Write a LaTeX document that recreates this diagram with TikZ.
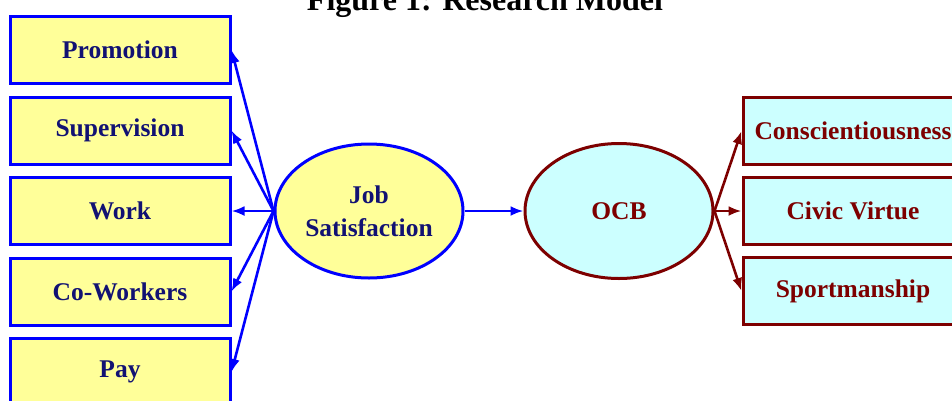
\documentclass[tikz,border=0pt]{standalone}
\usepackage{fontspec}
\setmainfont{Liberation Serif}
\usetikzlibrary{shapes.geometric,arrows.meta}
\definecolor{jsfill}{RGB}{255,255,153}
\definecolor{jstext}{RGB}{18,18,115}
\definecolor{ocbfill}{RGB}{204,255,255}
\definecolor{ocbred}{RGB}{125,0,0}
\begin{document}
\begin{tikzpicture}[x=1pt, y=-1pt,
    facet/.style={draw=blue, fill=jsfill, text=jstext, line width=3pt,
        minimum width=220pt, minimum height=67pt, inner sep=0pt,
        font=\fontsize{25.5}{33}\selectfont\bfseries},
    dimen/.style={draw=ocbred, fill=ocbfill, text=ocbred, line width=3pt,
        minimum width=220pt, minimum height=67pt, inner sep=0pt,
        font=\fontsize{25.5}{33}\selectfont\bfseries},
    tip/.style={line width=2.6pt, -{Latex[length=13pt,width=10pt]}}]
    \useasboundingbox (0,0) rectangle (952,400);
    \node[anchor=base, font=\fontsize{32}{36}\selectfont\bfseries] (title) at (485,10) {Figure 1: Research Model};
    \def\h{80.5}
    % facets of job satisfaction, top to bottom
    \foreach \lbl/\nm [count=\i from 0] in {Promotion/pro,Supervision/sup,Work/wrk,Co-Workers/cow,Pay/pay}{
        \node[facet] (\nm) at (120,50+\i*\h) {\lbl};
    }
    \node[ellipse, draw=blue, fill=jsfill, text=jstext, line width=3pt,
        minimum width=188pt, minimum height=134pt, inner sep=0pt, align=center,
        font=\fontsize{25.5}{33}\selectfont\bfseries] (js) at (369,211) {Job\\Satisfaction};
    \node[ellipse, draw=ocbred, fill=ocbfill, text=ocbred, line width=3pt,
        minimum width=188pt, minimum height=135pt, inner sep=0pt,
        font=\fontsize{25.5}{33}\selectfont\bfseries] (ocb) at (619,211) {OCB};
    % dimensions of OCB
    \foreach \lbl/\nm [count=\i from 0] in {Conscientiousness/con,Civic Virtue/civ,Sportmanship/spo}{
        \node[dimen] (\nm) at (853,131+\i*80) {\lbl};
    }
    \foreach \nm in {pro,sup,wrk,cow,pay}{
        \draw[tip, blue] (js.west) -- (\nm.east);
    }
    \draw[tip, blue] (js.east) -- (ocb.west);
    \foreach \nm in {con,civ,spo}{
        \draw[tip, ocbred] (ocb.east) -- (\nm.west);
    }
\end{tikzpicture}
\end{document}
